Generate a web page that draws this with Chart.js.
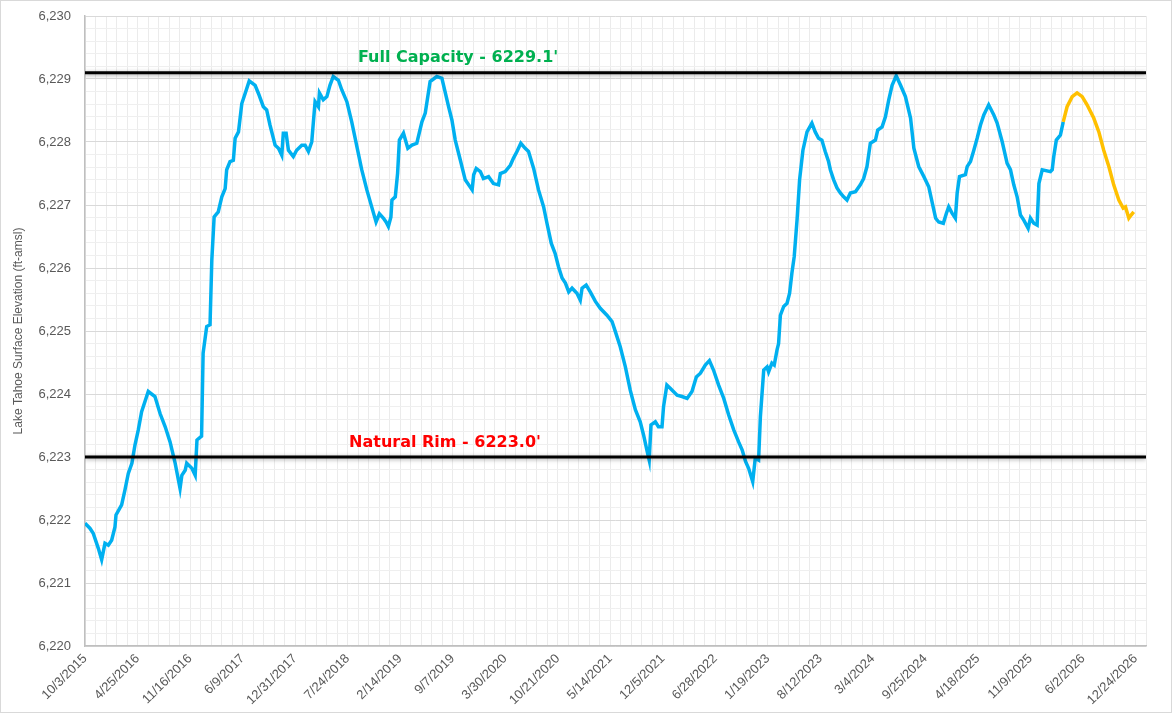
<!DOCTYPE html>
<html>
<head>
<meta charset="utf-8">
<script src="https://cdn.jsdelivr.net/npm/chart.js@4.4.1/dist/chart.umd.min.js"></script>
<style>
  html, body { margin: 0; padding: 0; background: #fff; }
  canvas { display: block; }
</style>
</head>
<body>
<canvas id="tahoe" width="1172" height="713"></canvas>
<script>
// Lake Tahoe surface elevation, observed (blue) and forecast (orange)
const observedDates = [
  '2015-10-03', '2015-10-22', '2015-11-04', '2015-11-24', '2015-12-07', '2015-12-20',
  '2016-01-02', '2016-01-15', '2016-01-28', '2016-02-01', '2016-02-23', '2016-03-07', '2016-03-20', '2016-04-03',
  '2016-04-15', '2016-04-28', '2016-05-11', '2016-06-06', '2016-07-02', '2016-07-22', '2016-08-11', '2016-08-30',
  '2016-09-19', '2016-10-08', '2016-10-15', '2016-10-28', '2016-11-03', '2016-11-23', '2016-12-06', '2016-12-13', '2016-12-31',
  '2017-01-06', '2017-01-20', '2017-02-02', '2017-02-09', '2017-02-18', '2017-03-06', '2017-03-20', '2017-04-02',
  '2017-04-08', '2017-04-21', '2017-05-04', '2017-05-11', '2017-05-24', '2017-06-06', '2017-06-19', '2017-07-05',
  '2017-07-28', '2017-08-10', '2017-08-29', '2017-09-11', '2017-09-24', '2017-10-14', '2017-10-27', '2017-11-09',
  '2017-11-15', '2017-11-26', '2017-12-05', '2017-12-24',
  '2018-01-06', '2018-01-26', '2018-02-08', '2018-02-21', '2018-03-06', '2018-03-12', '2018-03-19', '2018-04-01',
  '2018-04-05', '2018-04-20', '2018-05-04', '2018-05-16', '2018-05-29', '2018-06-18', '2018-07-01', '2018-07-21',
  '2018-08-09', '2018-08-29', '2018-09-17', '2018-10-07', '2018-10-26', '2018-11-12', '2018-11-25', '2018-12-11',
  '2018-12-21', '2018-12-30',
  '2019-01-09', '2019-01-13', '2019-01-26', '2019-02-04', '2019-02-11', '2019-02-27', '2019-03-16', '2019-04-01',
  '2019-04-20', '2019-05-10', '2019-05-23', '2019-06-11', '2019-07-07', '2019-07-27', '2019-08-22', '2019-09-04',
  '2019-09-17', '2019-10-07', '2019-10-26', '2019-11-22', '2019-11-28', '2019-12-08', '2019-12-24',
  '2020-01-05', '2020-01-25', '2020-02-13', '2020-03-04', '2020-03-11', '2020-03-30', '2020-04-19', '2020-05-01',
  '2020-05-15', '2020-05-30', '2020-06-16', '2020-06-29', '2020-07-19', '2020-08-07', '2020-08-27', '2020-09-09',
  '2020-09-26', '2020-10-11', '2020-10-24', '2020-11-07', '2020-11-20', '2020-12-03', '2020-12-16',
  '2021-01-04', '2021-01-17', '2021-01-24', '2021-02-09', '2021-02-25', '2021-03-17', '2021-04-05', '2021-05-01',
  '2021-05-21', '2021-06-03', '2021-06-22', '2021-07-12', '2021-07-31', '2021-08-20', '2021-09-08', '2021-09-21',
  '2021-10-04', '2021-10-13', '2021-10-20', '2021-11-06', '2021-11-18', '2021-12-02', '2021-12-08', '2021-12-21',
  '2022-01-03', '2022-01-30', '2022-02-18', '2022-03-10', '2022-03-29', '2022-04-15', '2022-05-01', '2022-05-20',
  '2022-06-05', '2022-06-21', '2022-07-11', '2022-07-31', '2022-08-19', '2022-09-08', '2022-09-27', '2022-10-11',
  '2022-10-24', '2022-11-05', '2022-11-21', '2022-12-01', '2022-12-14', '2022-12-21',
  '2023-01-03', '2023-01-16', '2023-01-22', '2023-02-04', '2023-02-13', '2023-02-24', '2023-03-02', '2023-03-09',
  '2023-03-22', '2023-04-04', '2023-04-14', '2023-04-23', '2023-05-02', '2023-05-13', '2023-05-23', '2023-06-05',
  '2023-06-21', '2023-07-10', '2023-07-23', '2023-08-05', '2023-08-18', '2023-08-31', '2023-09-13', '2023-09-20',
  '2023-10-03', '2023-10-16', '2023-10-29', '2023-11-11', '2023-11-24', '2023-12-07', '2023-12-27',
  '2024-01-15', '2024-01-28', '2024-02-10', '2024-02-23', '2024-03-14', '2024-03-23', '2024-04-09', '2024-04-22',
  '2024-05-05', '2024-05-18', '2024-06-03', '2024-06-20', '2024-07-09', '2024-07-29', '2024-08-11', '2024-08-30',
  '2024-09-19', '2024-10-08', '2024-10-22', '2024-11-04', '2024-11-16', '2024-12-04', '2024-12-16', '2024-12-25',
  '2025-01-07', '2025-01-20', '2025-01-27', '2025-02-05', '2025-02-28', '2025-03-07', '2025-03-20', '2025-04-02',
  '2025-04-15', '2025-04-28', '2025-05-11', '2025-05-30', '2025-06-19', '2025-07-02', '2025-07-22', '2025-08-10',
  '2025-08-23', '2025-09-05', '2025-09-18', '2025-10-01', '2025-10-14', '2025-10-31', '2025-11-09', '2025-11-22',
  '2025-12-05', '2025-12-12', '2025-12-25',
  '2026-01-26', '2026-02-02', '2026-02-08', '2026-02-18', '2026-03-06', '2026-03-17'
];
const observedLevels = [
  6221.95, 6221.87, 6221.79, 6221.55, 6221.37, 6221.63,
  6221.60, 6221.68, 6221.89, 6222.08, 6222.24, 6222.48, 6222.74, 6222.90,
  6223.19, 6223.43, 6223.72, 6224.04, 6223.96, 6223.69, 6223.48, 6223.24,
  6222.90, 6222.50, 6222.71, 6222.79, 6222.90, 6222.82, 6222.71, 6223.27, 6223.33,
  6224.65, 6225.07, 6225.10, 6226.13, 6226.81, 6226.89, 6227.13, 6227.26,
  6227.56, 6227.69, 6227.71, 6228.06, 6228.16, 6228.61, 6228.77, 6228.97,
  6228.90, 6228.77, 6228.56, 6228.51, 6228.27, 6227.95, 6227.90, 6227.79,
  6228.14, 6228.14, 6227.87, 6227.77,
  6227.87, 6227.95, 6227.95, 6227.85, 6228.00, 6228.30, 6228.64, 6228.56,
  6228.78, 6228.67, 6228.72, 6228.90, 6229.04, 6228.98, 6228.83, 6228.64,
  6228.32, 6227.93, 6227.56, 6227.24, 6226.97, 6226.73, 6226.86, 6226.79,
  6226.73, 6226.66,
  6226.81, 6227.08, 6227.13, 6227.50, 6228.03, 6228.14, 6227.90, 6227.95,
  6227.98, 6228.32, 6228.46, 6228.96, 6229.04, 6229.01, 6228.56, 6228.35,
  6228.03, 6227.71, 6227.40, 6227.24, 6227.48, 6227.58, 6227.53,
  6227.42, 6227.45, 6227.34, 6227.32, 6227.50, 6227.53, 6227.63, 6227.74,
  6227.85, 6227.98, 6227.90, 6227.85, 6227.58, 6227.24, 6226.97, 6226.71,
  6226.39, 6226.23, 6226.02, 6225.84, 6225.76, 6225.62, 6225.68,
  6225.60, 6225.49, 6225.68, 6225.73, 6225.62, 6225.47, 6225.36, 6225.25,
  6225.15, 6224.99, 6224.75, 6224.43, 6224.06, 6223.75, 6223.56, 6223.35,
  6223.11, 6222.95, 6223.51, 6223.56, 6223.48, 6223.48, 6223.80, 6224.14,
  6224.09, 6223.98, 6223.96, 6223.93, 6224.04, 6224.27, 6224.33, 6224.46,
  6224.53, 6224.38, 6224.14, 6223.93, 6223.67, 6223.43, 6223.24, 6223.11,
  6222.93, 6222.82, 6222.61, 6222.98, 6222.95, 6223.64,
  6224.38, 6224.43, 6224.35, 6224.49, 6224.46, 6224.70, 6224.80, 6225.25,
  6225.39, 6225.44, 6225.60, 6225.92, 6226.18, 6226.76, 6227.40, 6227.87,
  6228.16, 6228.30, 6228.16, 6228.06, 6228.03, 6227.85, 6227.69, 6227.56,
  6227.40, 6227.27, 6227.19, 6227.13, 6227.08, 6227.19, 6227.21,
  6227.32, 6227.42, 6227.61, 6227.98, 6228.03, 6228.19, 6228.24, 6228.40,
  6228.67, 6228.90, 6229.05, 6228.90, 6228.72, 6228.38, 6227.90, 6227.61,
  6227.45, 6227.29, 6227.03, 6226.79, 6226.73, 6226.71, 6226.87, 6226.97,
  6226.87, 6226.79, 6227.19, 6227.45, 6227.48, 6227.61, 6227.69, 6227.87,
  6228.06, 6228.27, 6228.43, 6228.59, 6228.43, 6228.30, 6228.00, 6227.66,
  6227.56, 6227.32, 6227.13, 6226.84, 6226.76, 6226.63, 6226.79, 6226.71,
  6226.68, 6227.34, 6227.56,
  6227.53, 6227.56, 6227.77, 6228.03, 6228.11, 6228.32
];
const forecastDates = [
  '2026-03-17', '2026-04-01', '2026-04-21', '2026-05-10', '2026-05-30', '2026-06-18', '2026-07-14', '2026-08-03',
  '2026-08-22', '2026-09-11', '2026-09-30', '2026-10-20', '2026-11-06', '2026-11-15', '2026-11-28', '2026-12-07',
  '2026-12-17'
];
const forecastLevels = [
  6228.32, 6228.56, 6228.72, 6228.78, 6228.72, 6228.59, 6228.38, 6228.16,
  6227.87, 6227.61, 6227.32, 6227.08, 6226.95, 6226.97, 6226.79, 6226.84,
  6226.89
];
const xTickLabels = [
  '10/3/2015', '4/25/2016', '11/16/2016', '6/9/2017', '12/31/2017', '7/24/2018', '2/14/2019',
  '9/7/2019', '3/30/2020', '10/21/2020', '5/14/2021', '12/5/2021', '6/28/2022', '1/19/2023',
  '8/12/2023', '3/4/2024', '9/25/2024', '4/18/2025', '11/9/2025', '6/2/2026', '12/24/2026'
];
const fullCapacity = 6229.1;
const naturalRim = 6223.0;

const axisStart = '2015-10-03';
const axisEnd = '2027-02-03';
const minorDays = 41;   // 5 minor steps per labelled step of 205 days

function toDay(s) {
  const [y, m, d] = s.split('-').map(Number);
  const [y0, m0, d0] = axisStart.split('-').map(Number);
  return Math.round((Date.UTC(y, m - 1, d) - Date.UTC(y0, m0 - 1, d0)) / 86400000);
}

const observed = observedDates.map((d, i) => ({ x: toDay(d), y: observedLevels[i] }));
const forecast = forecastDates.map((d, i) => ({ x: toDay(d), y: forecastLevels[i] }));
const xMax = toDay(axisEnd);

const txtGray = '#595959';
const tickFont = { family: 'Liberation Sans', size: 13 };

const lineShadow = {
  id: 'lineShadow',
  beforeDatasetDraw(chart, args) {
    if (args.meta._dataset.shadow) {
      const ctx = chart.ctx;
      ctx.save();
      ctx.shadowColor = 'rgba(0,0,0,0.35)';
      ctx.shadowBlur = 4;
      ctx.shadowOffsetY = 1;
    }
  },
  afterDatasetDraw(chart, args) {
    if (args.meta._dataset.shadow) chart.ctx.restore();
  }
};

const lineLabels = {
  id: 'lineLabels',
  afterDatasetsDraw(chart) {
    const { ctx, scales: { x, y } } = chart;
    ctx.save();
    ctx.font = 'bold 16px "DejaVu Sans"';
    ctx.textAlign = 'center';
    ctx.textBaseline = 'bottom';
    ctx.fillStyle = '#00B050';
    ctx.fillText("Full Capacity - 6229.1'", x.getPixelForValue(toDay('2019-09-28')), y.getPixelForValue(fullCapacity) - 7);
    ctx.fillStyle = '#FF0000';
    ctx.fillText("Natural Rim - 6223.0'", x.getPixelForValue(toDay('2019-08-08')), y.getPixelForValue(naturalRim) - 6);
    ctx.restore();
  }
};

const frame = {
  id: 'frame',
  beforeDraw(chart) {
    const ctx = chart.ctx;
    ctx.save();
    ctx.fillStyle = '#fff';
    ctx.fillRect(0, 0, chart.width, chart.height);
    ctx.strokeStyle = '#d9d9d9';
    ctx.lineWidth = 1;
    ctx.strokeRect(0.5, 0.5, chart.width - 1, chart.height - 1);
    ctx.restore();
  }
};

new Chart(document.getElementById('tahoe'), {
  type: 'line',
  data: {
    datasets: [
      { data: observed, borderColor: '#00B0F0', borderWidth: 3.5, pointRadius: 0, tension: 0, order: 3 },
      { data: forecast, borderColor: '#FFC000', borderWidth: 3.5, pointRadius: 0, tension: 0, order: 2 },
      { data: [{ x: 0, y: fullCapacity }, { x: xMax, y: fullCapacity }], borderColor: '#000', borderWidth: 3, pointRadius: 0, shadow: true, order: 1 },
      { data: [{ x: 0, y: naturalRim }, { x: xMax, y: naturalRim }], borderColor: '#000', borderWidth: 3, pointRadius: 0, shadow: true, order: 1 }
    ]
  },
  options: {
    responsive: false,
    animation: false,
    layout: { padding: { top: 16, right: 26, left: 0, bottom: 0 } },
    plugins: { legend: { display: false }, tooltip: { enabled: false } },
    scales: {
      x: {
        type: 'linear',
        min: 0,
        max: xMax,
        afterFit(scale) { scale.height = 67; },
        border: { color: '#bfbfbf', width: 1.5 },
        grid: { color: '#ebebeb', drawTicks: false },
        ticks: {
          stepSize: minorDays,
          autoSkip: false,
          minRotation: 45,
          maxRotation: 45,
          padding: 5,
          color: txtGray,
          font: tickFont,
          callback(v, i) { return i % 5 === 0 ? (xTickLabels[i / 5] || '') : ''; }
        }
      },
      y: {
        min: 6220,
        max: 6230,
        afterFit(scale) {
          scale.width = 85;
          scale.paddingTop = 0;
          scale.paddingBottom = 0;
        },
        border: { color: '#bfbfbf', width: 1.5 },
        grid: {
          drawTicks: false,
          color: c => Math.abs(c.tick.value - Math.round(c.tick.value)) < 1e-6 ? '#d9d9d9' : '#efefef'
        },
        title: {
          display: true,
          text: 'Lake Tahoe Surface Elevation (ft-amsl)',
          color: txtGray,
          font: { family: 'Liberation Sans', size: 12 },
          padding: { top: 11, bottom: 0 }
        },
        ticks: {
          stepSize: 0.2,
          autoSkip: false,
          padding: 14,
          color: txtGray,
          font: tickFont,
          callback(v) {
            return Math.abs(v - Math.round(v)) < 1e-6 ? Math.round(v).toLocaleString('en-US') : '';
          }
        }
      }
    }
  },
  plugins: [frame, lineShadow, lineLabels]
});
</script>
</body>
</html>
